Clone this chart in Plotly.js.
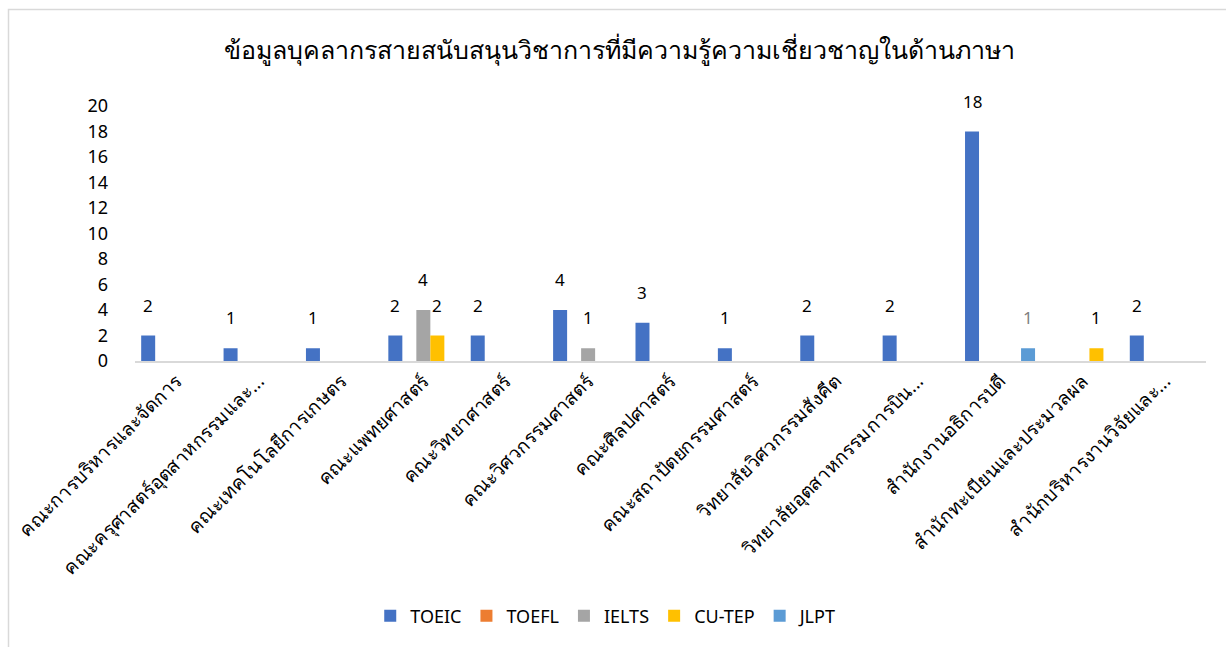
<!DOCTYPE html>
<html>
<head>
<meta charset="utf-8">
<script src="https://cdn.plot.ly/plotly-3.0.1.min.js"></script>
<style>
html,body{margin:0;padding:0;background:#fff;}
#chart{width:1226px;height:647px;}
</style>
</head>
<body>
<div id="chart"></div>
<script>
const categories = [
  "คณะการบริหารและจัดการ",
  "คณะครุศาสตร์อุตสาหกรรมและ...",
  "คณะเทคโนโลยีการเกษตร",
  "คณะแพทยศาสตร์",
  "คณะวิทยาศาสตร์",
  "คณะวิศวกรรมศาสตร์",
  "คณะศิลปศาสตร์",
  "คณะสถาปัตยกรรมศาสตร์",
  "วิทยาลัยวิศวกรรมสังคีต",
  "วิทยาลัยอุตสาหกรรมการบิน...",
  "สำนักงานอธิการบดี",
  "สำนักทะเบียนและประมวลผล",
  "สำนักบริหารงานวิจัยและ..."
];
const seriesNames = ["TOEIC", "TOEFL", "IELTS", "CU-TEP", "JLPT"];
const toeic  = [2, 1, 1, 2, 2, 4, 3, 1, 2, 2, 18, 0, 2];
const toefl  = [0, 0, 0, 0, 0, 0, 0, 0, 0, 0, 0, 0, 0];
const ielts  = [0, 0, 0, 4, 0, 1, 0, 0, 0, 0, 0, 0, 0];
const cutep  = [0, 0, 0, 2, 0, 0, 0, 0, 0, 0, 0, 1, 0];
const jlpt   = [0, 0, 0, 0, 0, 0, 0, 0, 0, 0, 1, 0, 0];
const seriesValues = [toeic, toefl, ielts, cutep, jlpt];
const seriesColors = ["#4472C4", "#ED7D31", "#A5A5A5", "#FFC000", "#5B9BD5"];
const labelColors = ["#000000", "#000000", "#000000", "#000000", "#7F7F7F"];
const yTicks = [0, 2, 4, 6, 8, 10, 12, 14, 16, 18, 20];

const FONT = "Tahoma, 'Noto Sans', 'DejaVu Sans', sans-serif";

const W = 1226, H = 647;
const M = {l: 135, r: 20, t: 106, b: 286};
const BARGAP = 0.15;
const plotW = W - M.l - M.r;
const slotPx = plotW / categories.length * (1 - BARGAP) / seriesNames.length;

const traces = seriesNames.map((name, i) => ({
  type: "bar",
  name: name,
  x: categories,
  y: seriesValues[i],
  marker: {color: seriesColors[i]},
  cliponaxis: false,
  hoverinfo: "x+y+name"
}));

// value labels (above bars, offset as in the original chart)
const annotations = [];
seriesValues.forEach((vals, i) => {
  vals.forEach((v, j) => {
    if (!v) return;
    annotations.push({
      x: categories[j], y: v, xref: "x", yref: "y",
      text: String(v), showarrow: false,
      xanchor: "center", yanchor: "bottom",
      xshift: (i - (seriesNames.length - 1) / 2) * slotPx,
      yshift: 17,
      font: {family: FONT, size: 17, color: labelColors[i]}
    });
  });
});

const layout = {
  width: W,
  height: H,
  margin: M,
  paper_bgcolor: "#ffffff",
  plot_bgcolor: "#ffffff",
  font: {family: FONT, color: "#000000", size: 16},
  title: {
    text: "ข้อมูลบุคลากรสายสนับสนุนวิชาการที่มีความรู้ความเชี่ยวชาญในด้านภาษา",
    font: {family: FONT, size: 25, color: "#000000"},
    x: 0.505, xanchor: "center",
    y: 0.922, yanchor: "middle"
  },
  barmode: "group",
  bargap: BARGAP,
  bargroupgap: 0,
  xaxis: {
    type: "category",
    tickangle: -45,
    tickfont: {family: FONT, size: 19, color: "#000000"},
    showline: true,
    linecolor: "#D9D9D9",
    linewidth: 1.5,
    ticks: "",
    showgrid: false,
    zeroline: false
  },
  yaxis: {
    range: [0, 20],
    tickvals: yTicks,
    ticktext: yTicks.map(String),
    tickfont: {family: FONT, size: 18, color: "#000000"},
    showline: false,
    showgrid: false,
    zeroline: false,
    ticks: "",
    ticklabelstandoff: 26
  },
  legend: {
    orientation: "h",
    x: 0.44, xanchor: "center",
    y: -1.0, yanchor: "middle",
    font: {family: FONT, size: 18, color: "#000000"},
    traceorder: "normal"
  },
  annotations: annotations,
  shapes: [{
    type: "rect",
    xref: "paper", yref: "paper",
    x0: (8.5 - M.l) / plotW, x1: (1240 - M.l) / plotW,
    y0: (361 - 660) / 255, y1: (361 - 9.5) / 255,
    line: {color: "#D9D9D9", width: 1.5},
    fillcolor: "rgba(0,0,0,0)",
    layer: "below"
  }],
  showlegend: true
};

Plotly.newPlot("chart", traces, layout, {displayModeBar: false, staticPlot: true});
</script>
</body>
</html>
